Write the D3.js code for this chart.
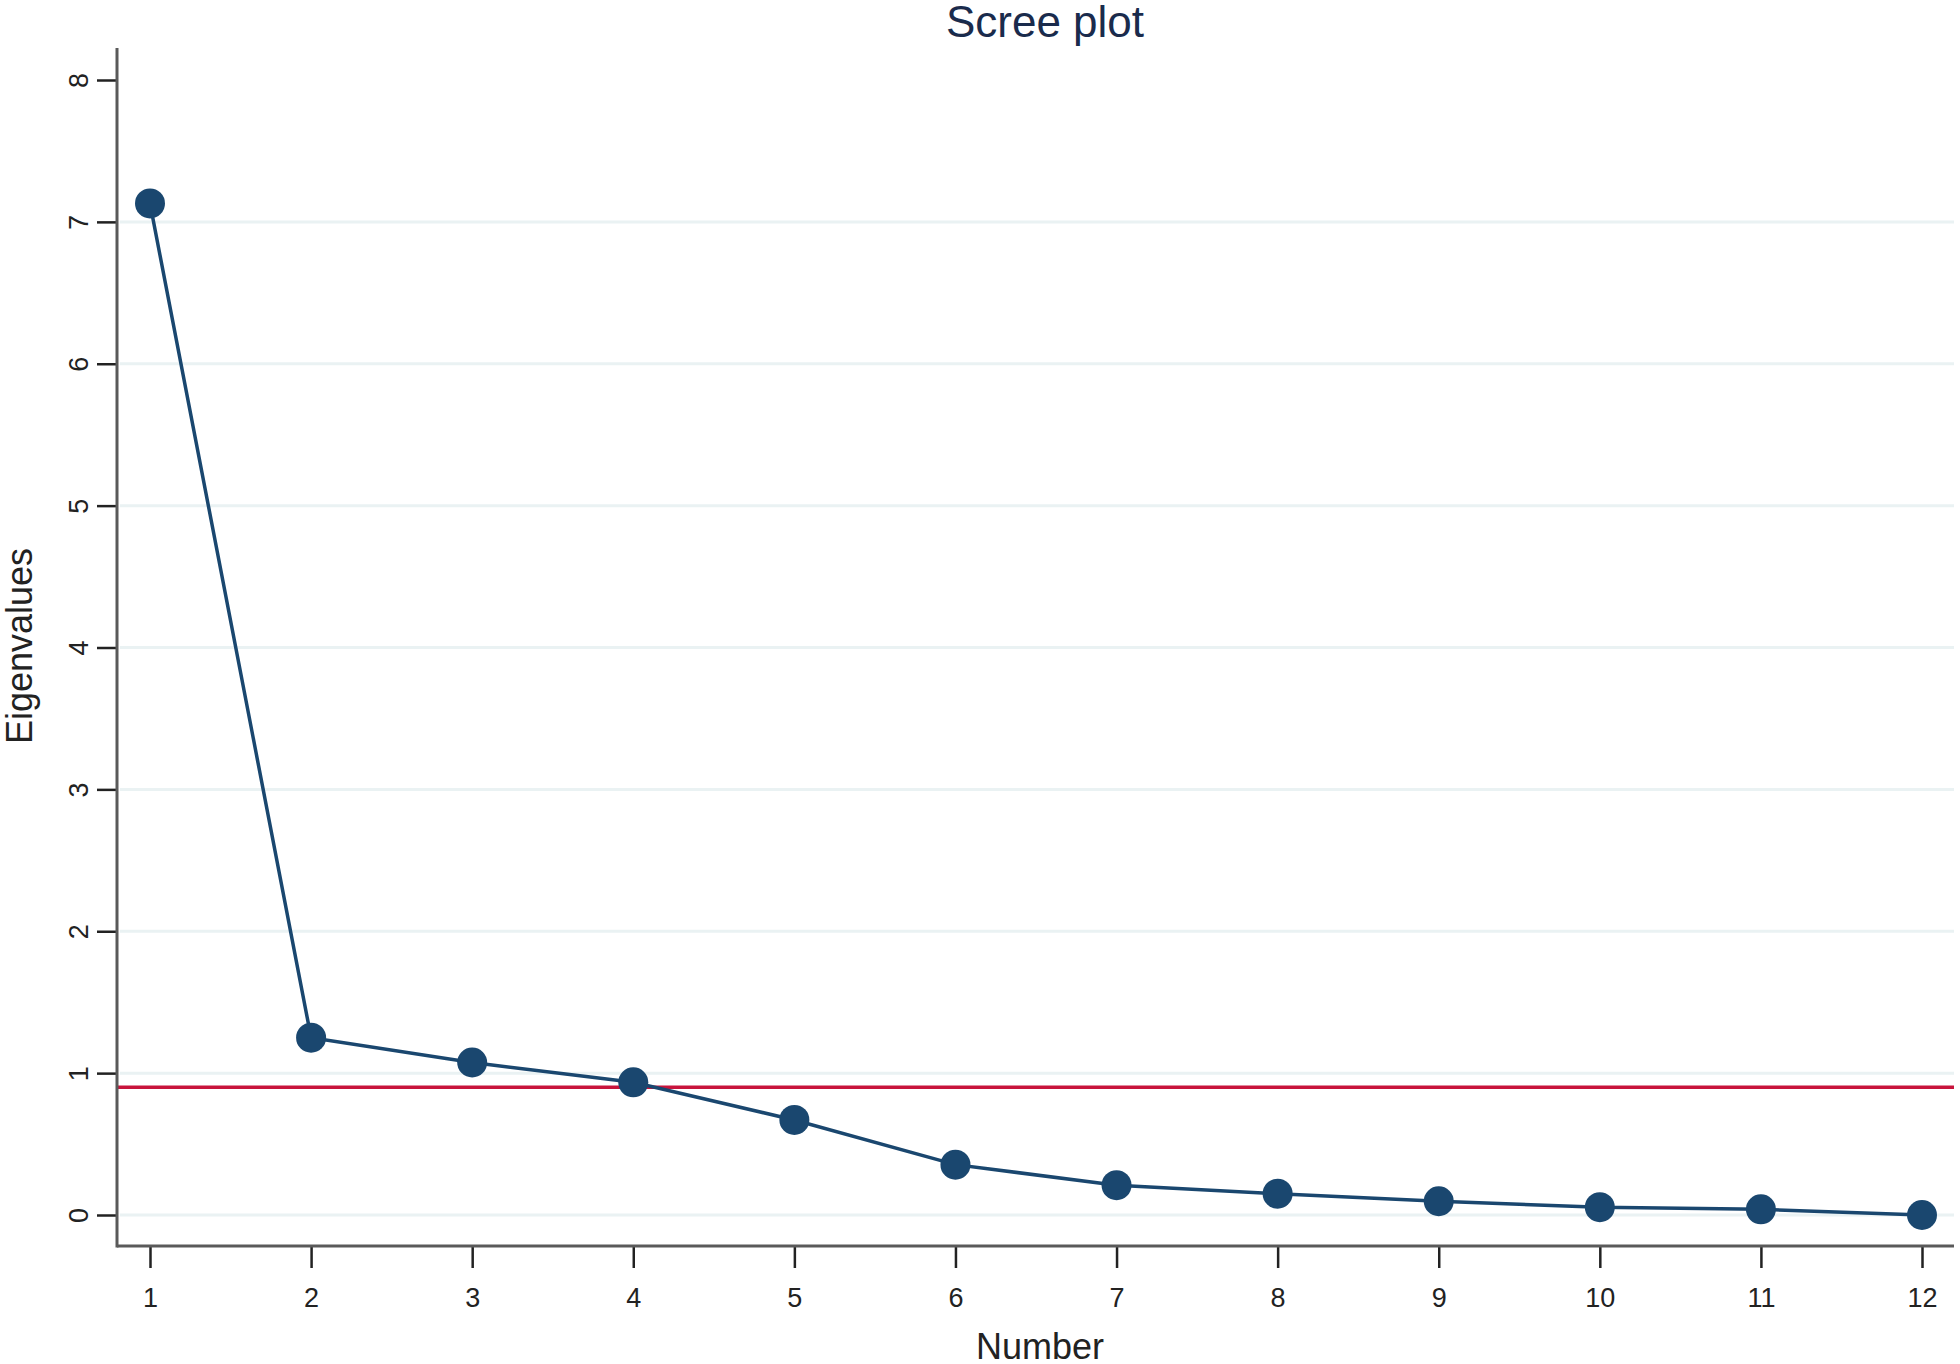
<!DOCTYPE html>
<html>
<head>
<meta charset="utf-8">
<script src="https://cdn.jsdelivr.net/npm/d3@7"></script>
<style>
  body { margin: 0; background: #fff; }
  text { font-family: "Liberation Sans", Arial, sans-serif; }
</style>
</head>
<body>
<div id="chart"></div>
<script>
// Scree plot data
var components = [1, 2, 3, 4, 5, 6, 7, 8, 9, 10, 11, 12];
var eigenvalues = [7.13, 1.25, 1.075, 0.935, 0.67, 0.355, 0.21, 0.15, 0.097, 0.055, 0.04, 0.0];
var yTicks = [0, 1, 2, 3, 4, 5, 6, 7, 8];
var gridValues = [0, 1, 2, 3, 4, 5, 6, 7];
var cutoff = 0.9;

var svgWidth = 1960;
var svgHeight = 1364;

var plot = { left: 117, right: 1954, top: 48, bottom: 1246 };

var svg = d3.select('#chart')
    .append('svg')
        .attr('width', svgWidth)
        .attr('height', svgHeight);

var xScale = d3.scaleLinear()
    .domain([1, 12])
    .range([150, 1922]);

var yScale = d3.scaleLinear()
    .domain([0, 8])
    .range([1215, 80]);

// gridlines
svg.append('g')
    .selectAll('line')
    .data(gridValues)
    .enter()
    .append('line')
        .attr('x1', plot.left + 3)
        .attr('x2', plot.right)
        .attr('y1', function(d) { return yScale(d); })
        .attr('y2', function(d) { return yScale(d); })
        .attr('stroke', '#eaf2f3')
        .attr('stroke-width', 3);

// horizontal cutoff line
svg.append('line')
    .attr('x1', plot.left)
    .attr('x2', plot.right)
    .attr('y1', yScale(cutoff))
    .attr('y2', yScale(cutoff))
    .attr('stroke', '#c8143c')
    .attr('stroke-width', 3.5);

// line + markers
var line = d3.line()
    .x(function(d, i) { return xScale(components[i]); })
    .y(function(d) { return yScale(d); });

svg.append('path')
    .datum(eigenvalues)
    .attr('d', line)
    .attr('fill', 'none')
    .attr('stroke', '#1a476f')
    .attr('stroke-width', 3.5);

svg.append('g')
    .selectAll('circle')
    .data(eigenvalues)
    .enter()
    .append('circle')
        .attr('cx', function(d, i) { return xScale(components[i]); })
        .attr('cy', function(d) { return yScale(d); })
        .attr('r', 15)
        .attr('fill', '#1a476f');

// axes
var bottomAxis = d3.axisBottom(xScale)
    .tickValues(components)
    .tickSize(22)
    .tickSizeOuter(0)
    .tickPadding(20);

var leftAxis = d3.axisLeft(yScale)
    .tickValues(yTicks)
    .tickSize(20)
    .tickSizeOuter(0);

var xAxisG = svg.append('g')
    .attr('transform', 'translate(0,' + plot.bottom + ')')
    .call(bottomAxis);

var yAxisG = svg.append('g')
    .attr('transform', 'translate(' + plot.left + ',0)')
    .call(leftAxis);

xAxisG.select('.domain').remove();
yAxisG.select('.domain').remove();

// axis lines
svg.append('line')
    .attr('x1', plot.left).attr('x2', plot.right)
    .attr('y1', plot.bottom).attr('y2', plot.bottom)
    .attr('stroke', '#5a5a5a').attr('stroke-width', 3);

svg.append('line')
    .attr('x1', plot.left).attr('x2', plot.left)
    .attr('y1', plot.top).attr('y2', plot.bottom + 1.5)
    .attr('stroke', '#5a5a5a').attr('stroke-width', 3);

xAxisG.selectAll('.tick line').attr('stroke', '#222').attr('stroke-width', 2.5);
yAxisG.selectAll('.tick line').attr('stroke', '#222').attr('stroke-width', 2.5);

xAxisG.selectAll('.tick text')
    .attr('font-size', 27)
    .attr('fill', '#222')
    .attr('font-family', '"Liberation Sans", Arial, sans-serif');

// y tick labels rotated
yAxisG.selectAll('.tick text')
    .attr('font-size', 27)
    .attr('fill', '#222')
    .attr('font-family', '"Liberation Sans", Arial, sans-serif')
    .attr('x', null)
    .attr('dy', null)
    .attr('text-anchor', 'middle')
    .attr('transform', 'translate(-38,0) rotate(-90)')
    .attr('dominant-baseline', 'central');

// titles
svg.append('text')
    .attr('x', 1045)
    .attr('y', 37)
    .attr('text-anchor', 'middle')
    .attr('font-size', 44)
    .attr('fill', '#1a2b4c')
    .text('Scree plot');

svg.append('text')
    .attr('x', 1040)
    .attr('y', 1359)
    .attr('text-anchor', 'middle')
    .attr('font-size', 36)
    .attr('fill', '#222')
    .text('Number');

svg.append('text')
    .attr('transform', 'translate(32,646) rotate(-90)')
    .attr('text-anchor', 'middle')
    .attr('font-size', 36)
    .attr('fill', '#222')
    .text('Eigenvalues');
</script>
</body>
</html>
